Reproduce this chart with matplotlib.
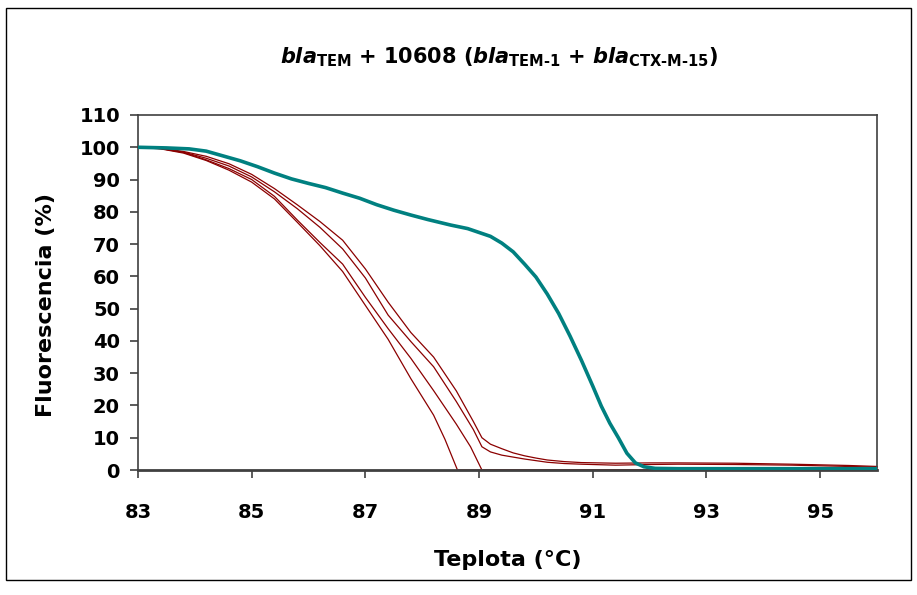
import matplotlib.pyplot as plt
from matplotlib.patches import Rectangle

# melting curves (temperature in °C, fluorescence in %)
temp_ctx = [83.0, 83.5, 83.9, 84.2, 84.5, 84.8, 85.1, 85.4, 85.7, 86.0, 86.3, 86.6,
            86.9, 87.2, 87.5, 87.8, 88.1, 88.5, 88.8, 89.0, 89.2, 89.4, 89.6, 89.8,
            90.0, 90.2, 90.4, 90.6, 90.8, 91.0, 91.15, 91.3, 91.45, 91.6, 91.75,
            91.9, 92.1, 92.5, 93.0, 94.0, 95.0, 96.0]
fluo_ctx = [100, 99.8, 99.5, 98.8, 97.3, 95.8, 94.0, 92.0, 90.2, 88.8, 87.5, 85.8,
            84.2, 82.2, 80.5, 79.0, 77.6, 75.9, 74.8, 73.6, 72.4, 70.3, 67.6, 63.8,
            59.8, 54.5, 48.5, 41.5, 34.0, 26.0, 19.8, 14.5, 10.0, 5.2, 2.2,
            1.0, 0.5, 0.4, 0.4, 0.4, 0.4, 0.4]

temp_tem1 = [83.0, 83.4, 83.8, 84.2, 84.6, 85.0, 85.4, 85.8, 86.2, 86.6, 87.0,
             87.4, 87.8, 88.2, 88.4, 88.62, 96.0]
fluo_tem1 = [100, 99.5, 98.2, 95.9, 92.9, 89.2, 84.0, 76.8, 69.5, 61.5, 51.0,
             40.5, 28.3, 17.0, 9.5, 0, 0]

temp_tem2 = [83.0, 83.4, 83.8, 84.2, 84.6, 85.0, 85.4, 85.8, 86.2, 86.6, 87.0,
             87.4, 87.8, 88.2, 88.6, 88.85, 89.05, 96.0]
fluo_tem2 = [100, 99.6, 98.4, 96.1, 93.4, 90.0, 84.8, 77.5, 70.5, 63.8, 53.5,
             43.8, 34.6, 24.6, 14.2, 7.2, 0, 0]

temp_tem3 = [83.0, 83.4, 83.8, 84.2, 84.6, 85.0, 85.4, 85.8, 86.2, 86.6, 87.0,
             87.4, 87.8, 88.2, 88.6, 88.9, 89.05, 89.2, 89.4, 89.6, 89.8, 90.0,
             90.2, 90.5, 90.8, 91.4, 92.0, 92.5, 93.5, 94.5, 95.0, 95.5, 96.0]
fluo_tem3 = [100, 99.6, 98.5, 96.6, 94.2, 90.8, 86.2, 81.0, 75.2, 68.5, 59.5,
             48.0, 39.8, 32.0, 21.2, 12.5, 7.2, 5.6, 4.6, 4.0, 3.4, 2.9,
             2.4, 2.0, 1.8, 1.5, 1.7, 1.8, 1.7, 1.5, 1.3, 1.1, 0.9]

temp_tem4 = [83.0, 83.4, 83.8, 84.2, 84.6, 85.0, 85.4, 85.8, 86.2, 86.6, 87.0,
             87.4, 87.8, 88.2, 88.6, 88.9, 89.05, 89.2, 89.4, 89.6, 89.8, 90.0,
             90.2, 90.5, 90.8, 91.4, 92.0, 92.5, 93.5, 94.5, 95.0, 95.5, 96.0]
fluo_tem4 = [100, 99.7, 98.7, 97.2, 94.9, 91.6, 87.2, 82.2, 77.0, 71.2, 62.3,
             52.0, 42.6, 35.0, 24.5, 15.0, 10.0, 8.0, 6.6, 5.3, 4.4, 3.7,
             3.1, 2.6, 2.3, 2.1, 2.2, 2.2, 2.1, 1.8, 1.6, 1.4, 1.1]

x_ticks = [83, 85, 87, 89, 91, 93, 95]
y_ticks = list(range(0, 111, 10))

plt.rcParams["font.family"] = "DejaVu Sans"
plt.rcParams["font.weight"] = "bold"
plt.rcParams["mathtext.fontset"] = "custom"
plt.rcParams["mathtext.rm"] = "DejaVu Sans:bold"
plt.rcParams["mathtext.it"] = "DejaVu Sans:bold:italic"
plt.rcParams["mathtext.bf"] = "DejaVu Sans:bold"

fig = plt.figure(figsize=(9.17, 5.95), dpi=100)
ax = fig.add_axes([138 / 917, 1 - 470 / 595, 739 / 917, 355 / 595])

red = "#8b0000"
for t, f in [(temp_tem1, fluo_tem1), (temp_tem2, fluo_tem2),
             (temp_tem3, fluo_tem3), (temp_tem4, fluo_tem4)]:
    ax.plot(t, f, color=red, lw=0.9, clip_on=False)
ax.plot(temp_ctx, fluo_ctx, color="#008080", lw=2.6, zorder=3)

ax.set_xlim(83, 96)
ax.set_ylim(0, 110)
ax.set_xticks(x_ticks)
ax.set_yticks(y_ticks)
ax.tick_params(direction="out", length=6, width=1.2, color="#404040",
               labelsize=14)
ax.tick_params(axis="x", pad=18)
ax.tick_params(axis="y", pad=7)
for side in ["left", "bottom", "top", "right"]:
    ax.spines[side].set_color("#404040")
    ax.spines[side].set_linewidth(1.2)
ax.spines["bottom"].set_linewidth(2)

ax.set_xlabel("Teplota (°C)", fontsize=16, fontweight="bold", labelpad=20)
ax.set_ylabel("Fluorescencia (%)", fontsize=16, fontweight="bold")
ax.yaxis.set_label_coords(-0.111, 0.465)

fig.text(499 / 917, 1 - 57 / 595,
         r"$\mathit{bla}_{\text{TEM}}$ + 10608 ($\mathit{bla}_{\text{TEM-1}}$"
         r" + $\mathit{bla}_{\text{CTX-M-15}}$)",
         ha="center", va="center", fontsize=15, fontweight="bold")

fig.patches.append(Rectangle((6 / 917, 1 - 580 / 595), 905 / 917, 572 / 595,
                             transform=fig.transFigure, fill=False,
                             edgecolor="black", lw=1))

fig.savefig("out.png", dpi=100)
